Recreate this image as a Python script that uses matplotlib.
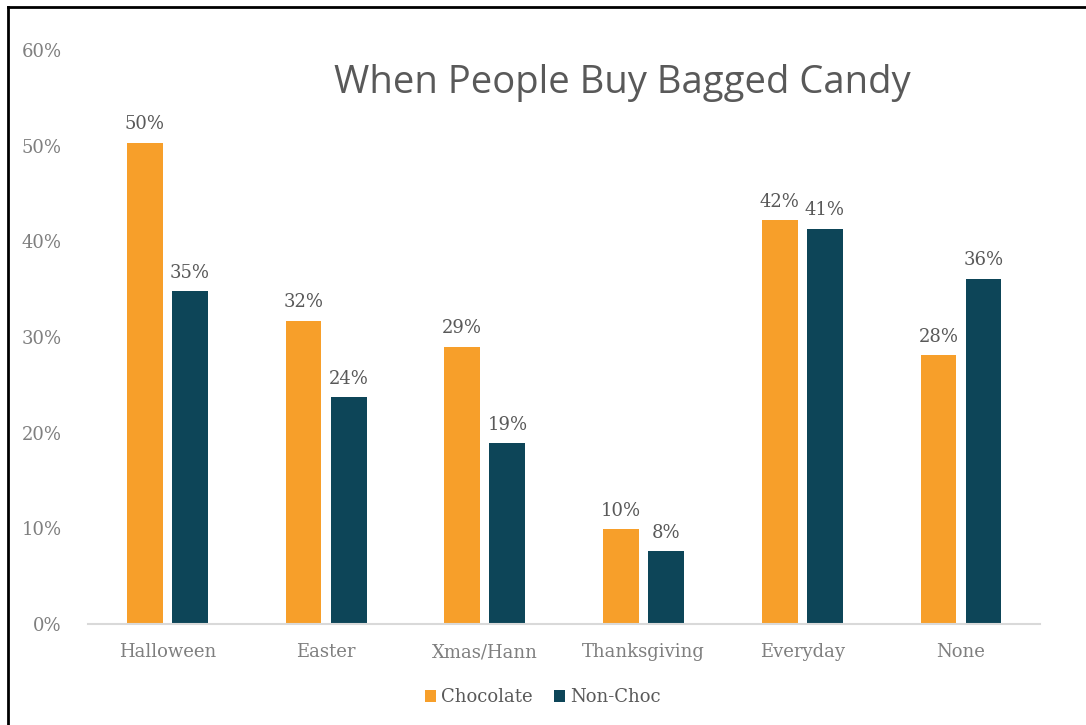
import numpy as np
from matplotlib import pyplot as plt
from matplotlib.lines import Line2D

# Data
categories = ["Halloween", "Easter", "Xmas/Hann", "Thanksgiving", "Everyday", "None"]
chocolate = [0.503, 0.317, 0.290, 0.099, 0.422, 0.281]
nonChoc = [0.348, 0.237, 0.189, 0.076, 0.413, 0.361]
yTicks = [0.0, 0.1, 0.2, 0.3, 0.4, 0.5, 0.6]

orange = '#F79F2A'
teal = '#0D4558'

# serif everywhere except the title
plt.rcParams['font.family'] = 'serif'
plt.rcParams['font.serif'] = ['DejaVu Serif']

fig = plt.figure(figsize=(10.86, 7.25), dpi=100)
ax = fig.add_axes([0.081, 0.1393, 0.877, 0.7917])

x = np.arange(len(categories))
width = 0.226
offset = 0.142
barsChoc = ax.bar(x - offset, chocolate, width, color=orange, label="Chocolate")
barsNon = ax.bar(x + offset, nonChoc, width, color=teal, label="Non-Choc")

for bars in (barsChoc, barsNon):
    for b in bars:
        h = b.get_height()
        ax.text(b.get_x() + b.get_width() / 2, h + 0.01, "{:.0f}%".format(h * 100),
                ha='center', va='bottom', fontsize=13, color='#595959')

ax.set_xlim(-0.5, 5.5)
ax.set_ylim(0, 0.6)
ax.set_yticks(yTicks)
ax.set_yticklabels(["{:.0f}%".format(t * 100) for t in yTicks])
ax.set_xticks(x)
ax.set_xticklabels(categories)
ax.tick_params(axis='both', length=0, labelsize=13, labelcolor='#7F7F7F')
ax.tick_params(axis='x', pad=14)
ax.tick_params(axis='y', pad=19)

for s in ['top', 'right', 'left']:
    ax.spines[s].set_visible(False)
ax.spines['bottom'].set_color('#D9D9D9')
ax.spines['bottom'].set_linewidth(1.5)

fig.text(0.573, 0.886, "When People Buy Bagged Candy", ha='center', va='center',
         fontsize=27.5, color='#595959', family='Open Sans')

leg = fig.legend(handles=[barsChoc, barsNon], loc='center', bbox_to_anchor=(0.5, 0.038),
                 ncol=2, frameon=False, handlelength=0.6, handleheight=0.6,
                 handletextpad=0.3, columnspacing=1.2, fontsize=13, labelcolor='#595959')

# frame of the screenshot (left and top edges only)
fig.add_artist(Line2D([0.0075, 0.0075], [0, 0.99], transform=fig.transFigure, color='black', linewidth=2))
fig.add_artist(Line2D([0.0075, 1.0], [0.99, 0.99], transform=fig.transFigure, color='black', linewidth=2))

plt.savefig("out.png", dpi=100)
